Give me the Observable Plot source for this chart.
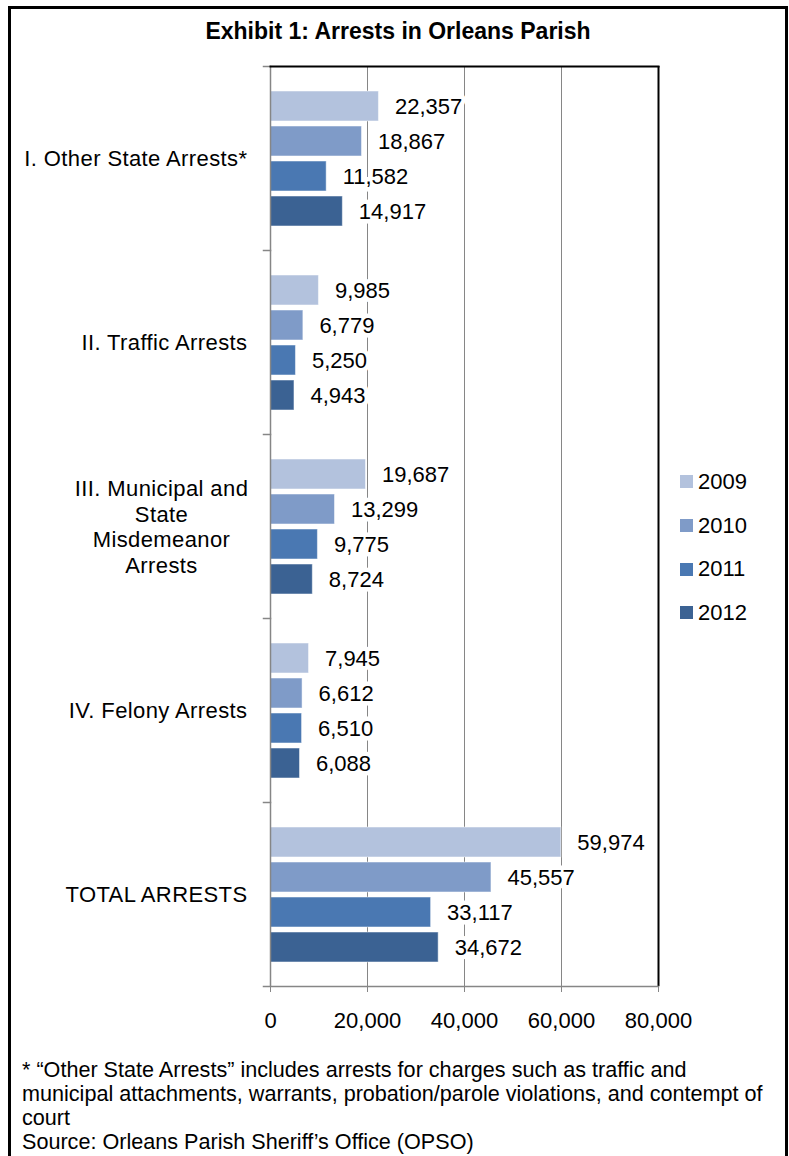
<!DOCTYPE html>
<html>
<head>
<meta charset="utf-8">
<script src="https://cdn.jsdelivr.net/npm/d3@7"></script>
<script src="https://cdn.jsdelivr.net/npm/@observablehq/plot@0.6"></script>
<style>
  html, body { margin: 0; padding: 0; background: #fff; }
  body { width: 789px; height: 1156px; position: relative; overflow: hidden; font-family: "Liberation Sans", Arial, sans-serif; color: #000; }
  #border { position: absolute; left: 8px; top: 6px; width: 780px; height: 1160px; border: 3px solid #000; border-bottom: none; box-sizing: border-box; }
  #title { position: absolute; left: 0; width: 796px; top: 18px; text-align: center; font-weight: bold; font-size: 23px; }
  #chart { position: absolute; left: 0; top: 0; }
  #legend { position: absolute; left: 680px; top: 460px; font-size: 22px; }
  .li { height: 43.7px; display: flex; align-items: center; }
  .sw { width: 13px; height: 13px; margin-right: 5px; }
  #note { position: absolute; left: 22px; top: 1058px; font-size: 21.6px; line-height: 24px; white-space: nowrap; }
  .catlabel text { letter-spacing: 0.4px; }
</style>
</head>
<body>
<div id="border"></div>
<div id="title">Exhibit 1: Arrests in Orleans Parish</div>
<div id="chart"></div>
<div id="legend"></div>
<div id="note">* “Other State Arrests” includes arrests for charges such as traffic and<br>municipal attachments, warrants, probation/parole violations, and contempt of<br>court<br>Source: Orleans Parish Sheriff’s Office (OPSO)</div>
<script>
const categories = [
  "I. Other State Arrests*",
  "II. Traffic Arrests",
  "III. Municipal and\nState\nMisdemeanor\nArrests",
  "IV. Felony Arrests",
  "TOTAL ARRESTS"
];
const years = ["2009", "2010", "2011", "2012"];
const arrests2009 = [22357, 9985, 19687, 7945, 59974];
const arrests2010 = [18867, 6779, 13299, 6612, 45557];
const arrests2011 = [11582, 5250, 9775, 6510, 33117];
const arrests2012 = [14917, 4943, 8724, 6088, 34672];
const xTicks = [0, 20000, 40000, 60000, 80000];
const colors = ["#B3C2DD", "#7F9BC8", "#4A78B2", "#3B6293"];

const series = [arrests2009, arrests2010, arrests2011, arrests2012];
const rows = [];
categories.forEach((c, i) => years.forEach((y, j) => rows.push({category: c, year: y, value: series[j][i]})));

const gray = "#868686";
const fmt = d3.format(",");
const singleLine = categories.filter(c => !c.includes("\n"));
const multiLine = categories.filter(c => c.includes("\n"));

const chart = Plot.plot({
  width: 789,
  height: 1040,
  marginLeft: 270,
  marginRight: 131,
  marginTop: 65,
  marginBottom: 53,
  style: {fontFamily: "'Liberation Sans', Arial, sans-serif", color: "#000", background: "transparent"},
  x: {domain: [0, 80000]},
  y: {domain: years, paddingInner: 0.15, paddingOuter: 0.65, axis: null},
  fy: {domain: categories, padding: 0, axis: null},
  color: {domain: years, range: colors},
  marks: [
    Plot.ruleX(xTicks.slice(1, -1), {stroke: gray, strokeWidth: 1}),
    Plot.barX(rows, {x: "value", y: "year", fy: "category", fill: "year", stroke: "white", strokeOpacity: 0.5, strokeWidth: 1}),
    Plot.text(rows, {x: "value", y: "year", fy: "category", text: d => fmt(d.value), textAnchor: "start", dx: 16, fontSize: 22, fill: "black", stroke: "white", strokeWidth: 9}),
    Plot.text(singleLine, {fy: d => d, text: d => d, frameAnchor: "left", textAnchor: "end", dx: -23, fontSize: 22, fill: "black", className: "catlabel"}),
    Plot.text(multiLine, {fy: d => d, text: d => d, frameAnchor: "left", textAnchor: "middle", dx: -109, fontSize: 22, lineHeight: 1.16, fill: "black", className: "catlabel"}),
    Plot.ruleX([0], {stroke: gray, strokeWidth: 1.5}),
    Plot.ruleX([80000], {stroke: "black", strokeWidth: 2}),
    Plot.frame({anchor: "top", stroke: gray, strokeWidth: 1.5, insetLeft: -7, insetRight: 388}),
    Plot.frame({anchor: "top", facetAnchor: "top", stroke: "black", strokeWidth: 2}),
    Plot.frame({anchor: "bottom", facetAnchor: "bottom", stroke: gray, strokeWidth: 1.5, insetLeft: -7}),
    Plot.axisX({anchor: "bottom", ticks: xTicks, tickFormat: fmt, tickSize: 6, tickPadding: 20, fontSize: 22, stroke: gray, fill: "black", label: null})
  ]
});
document.getElementById("chart").appendChild(chart);

const legend = document.getElementById("legend");
years.forEach((y, i) => {
  const li = document.createElement("div");
  li.className = "li";
  li.innerHTML = `<div class="sw" style="background:${colors[i]}"></div><span>${y}</span>`;
  legend.appendChild(li);
});
</script>
</body>
</html>
